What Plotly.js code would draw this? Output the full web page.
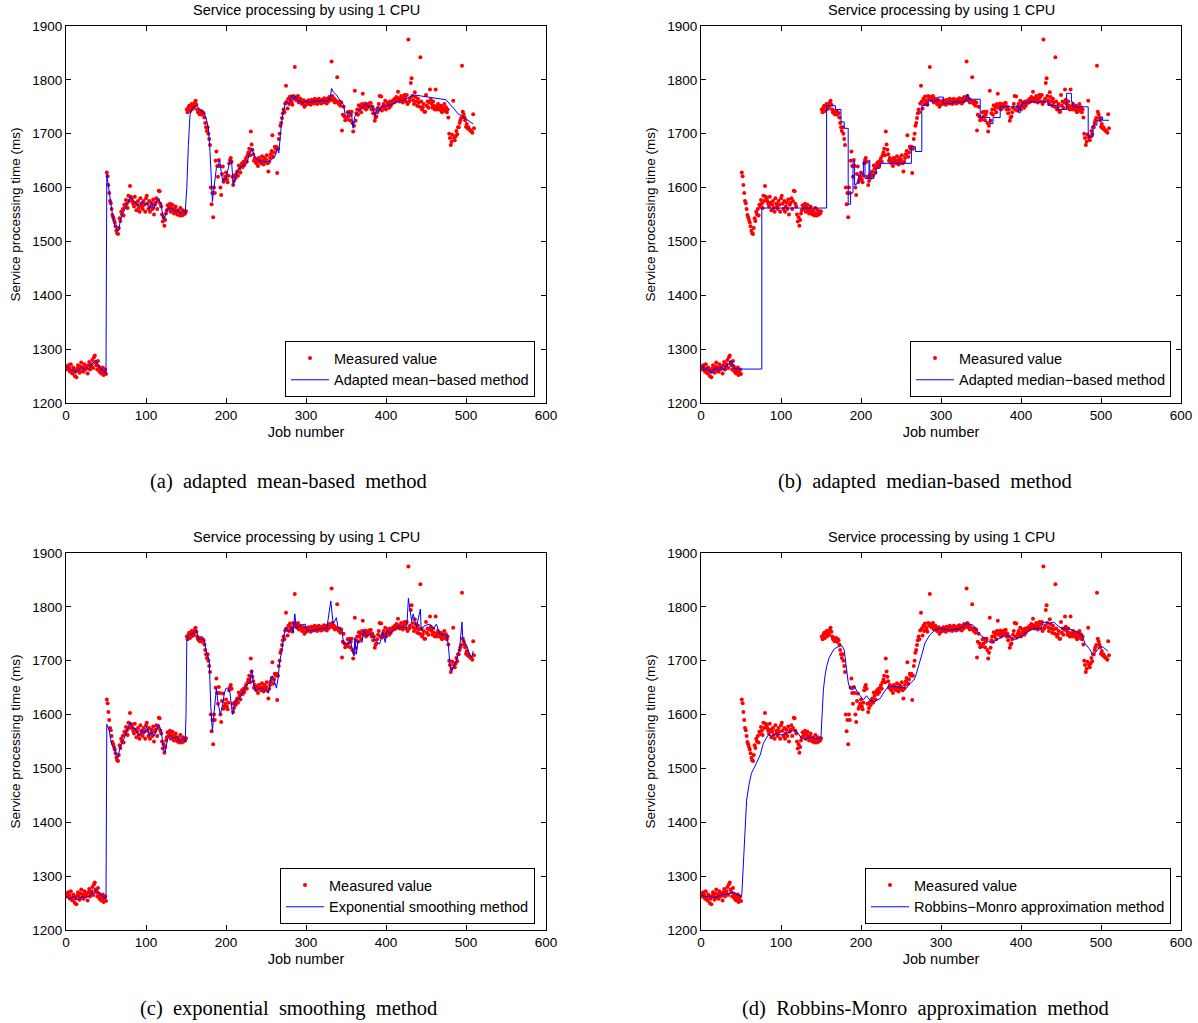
<!DOCTYPE html>
<html>
<head>
<meta charset="utf-8">
<script src="https://cdn.plot.ly/plotly-3.0.1.min.js"></script>
<style>html,body{margin:0;padding:0;background:#fff;}#chart{width:1198px;height:1023px;}</style>
</head>
<body>
<div id="chart"></div>
<script>
// Measured service processing time (ms) for jobs 1..510
const measured = [
1268,1262,1270,1265,1258,1272,1260,1255,1266,1262,
1250,1258,1248,1264,1270,1262,1256,1268,1275,1260,
1266,1258,1272,1262,1268,1264,1255,1270,1276,1262,
1268,1272,1280,1265,1285,1288,1275,1270,1262,1278,
1268,1258,1264,1255,1260,1266,1252,1256,1262,1254,
1628,1621,1605,1590,1575,1571,1560,1549,1545,1540,
1535,1528,1520,1515,1514,1525,1543,1538,1555,1550,
1560,1548,1568,1564,1577,1570,1562,1585,1575,1603,
1583,1580,1575,1570,1565,1583,1572,1558,1568,1575,
1562,1555,1580,1570,1565,1560,1575,1568,1555,1580,
1585,1570,1560,1575,1555,1565,1572,1560,1578,1550,
1568,1572,1580,1560,1575,1594,1593,1570,1565,1550,
1537,1545,1529,1540,1552,1558,1567,1560,1565,1570,
1555,1562,1568,1558,1552,1560,1565,1555,1550,1558,
1555,1548,1562,1552,1548,1558,1550,1555,1552,1556,
1745,1740,1748,1752,1742,1750,1755,1746,1752,1748,
1758,1761,1754,1745,1740,1742,1736,1738,1742,1735,
1740,1738,1730,1720,1712,1705,1712,1700,1690,1679,
1600,1569,1590,1545,1600,1590,1650,1667,1640,1620,
1651,1640,1600,1586,1625,1639,1611,1615,1620,1628,
1615,1610,1622,1645,1651,1655,1648,1620,1605,1612,
1623,1618,1625,1630,1622,1641,1635,1628,1640,1645,
1638,1648,1642,1650,1655,1648,1660,1665,1672,1660,
1704,1680,1670,1662,1650,1655,1648,1645,1652,1640,
1655,1648,1651,1645,1658,1650,1643,1655,1648,1652,
1660,1645,1630,1648,1655,1662,1668,1697,1657,1665,
1676,1672,1676,1627,1672,1690,1700,1715,1720,1729,
1738,1745,1740,1756,1789,1760,1747,1765,1755,1769,
1762,1758,1754,1770,1765,1824,1768,1762,1765,1770,
1758,1762,1765,1760,1755,1757,1762,1750,1753,1760,
1758,1755,1762,1757,1760,1754,1763,1758,1760,1756,
1765,1758,1762,1755,1760,1765,1758,1762,1756,1760,
1764,1758,1766,1760,1762,1756,1765,1760,1768,1762,
1765,1834,1770,1762,1765,1758,1762,1760,1805,1758,
1755,1760,1752,1758,1706,1735,1750,1732,1725,1728,
1727,1740,1732,1741,1725,1735,1741,1720,1704,1715,
1780,1724,1738,1745,1735,1753,1745,1750,1740,1755,
1774,1748,1750,1756,1745,1752,1748,1755,1751,1757,
1757,1745,1750,1738,1745,1724,1730,1732,1740,1748,
1755,1770,1745,1769,1743,1750,1755,1748,1761,1745,
1752,1758,1755,1748,1760,1752,1756,1760,1762,1758,
1765,1760,1768,1762,1778,1766,1760,1764,1770,1762,
1758,1765,1772,1768,1760,1772,1755,1875,1760,1765,
1794,1803,1770,1762,1755,1777,1768,1760,1752,1765,
1758,1750,1842,1760,1745,1749,1755,1741,1741,1772,
1752,1760,1748,1758,1782,1763,1755,1748,1760,1752,
1745,1782,1750,1745,1755,1751,1748,1744,1752,1740,
1748,1745,1755,1742,1749,1740,1745,1730,1700,1692,
1679,1685,1698,1761,1692,1688,1695,1705,1699,1712,
1712,1720,1725,1729,1826,1741,1736,1730,1725,1713,
1718,1710,1712,1708,1707,1705,1704,1702,1736,1710
];
const jobNumbers = measured.map((_, i) => i + 1);

// (a) adapted mean-based method
const meanJobs = [1,4,7,10,13,16,19,22,25,28,31,34,37,40,43,46,49,50,51,53,55,58,61,64,66,68,71,74,77,80,83,86,89,92,95,98,101,104,107,110,113,116,119,122,125,128,131,134,137,140,143,146,149,151,153,155,157,160,163,166,169,172,175,178,180,182,183,185,188,190,192,194,196,198,200,202,205,207,209,211,214,218,222,226,229,232,234,236,240,246,252,256,259,262,264,266,268,270,272,274,276,278,280,283,285,287,290,293,296,300,305,310,315,320,325,330,332,334,338,342,347,349,351,354,357,359,361,364,367,373,379,383,386,389,391,394,400,407,415,424,430,436,444,452,463,475,484,490,496,502,509];
const meanVals = [1268,1264,1262,1260,1257,1262,1266,1263,1266,1264,1270,1274,1280,1272,1264,1262,1258,1255,1625,1605,1580,1550,1530,1520,1520,1540,1552,1560,1570,1583,1578,1572,1568,1566,1575,1570,1572,1560,1572,1560,1574,1580,1566,1540,1550,1563,1560,1560,1556,1558,1552,1556,1553,1600,1680,1735,1745,1750,1752,1748,1742,1740,1730,1710,1667,1600,1574,1600,1636,1640,1651,1630,1611,1615,1617,1630,1651,1648,1605,1614,1630,1638,1642,1645,1660,1673,1665,1657,1651,1648,1648,1650,1655,1660,1673,1664,1697,1728,1742,1756,1759,1755,1760,1772,1763,1769,1762,1760,1757,1760,1758,1761,1760,1762,1760,1765,1784,1778,1772,1763,1754,1735,1732,1741,1735,1710,1732,1738,1744,1754,1750,1751,1732,1748,1741,1751,1752,1754,1760,1763,1769,1772,1770,1768,1766,1763,1748,1737,1732,1726,1718];

// (b) adapted median-based method (step changes)
const medianJobs = [1,3,6,9,12,15,18,21,24,27,30,33,36,39,41,44,76,157,168,175,179,184,187,190,192,194,197,199,203,205,210,211,216,219,224,263,268,276,284,296,303,315,330,332,334,349,361,365,374,397,399,401,407,434,446,457,463,465,484,490,495,500,502,510];
const medianVals = [1268,1262,1265,1260,1256,1262,1265,1262,1266,1262,1268,1272,1278,1272,1264,1263,1562,1752,1745,1722,1710,1569,1590,1648,1605,1608,1623,1625,1648,1617,1651,1617,1625,1636,1645,1676,1667,1753,1761,1768,1756,1759,1762,1772,1764,1730,1719,1730,1750,1739,1750,1757,1759,1753,1745,1775,1759,1750,1694,1716,1725,1731,1725,1725];

// (c) exponential smoothing method
const expJobs = [1,5,10,15,20,25,30,35,38,42,46,50,51,54,57,60,63,65,67,70,73,76,80,83,86,89,92,95,98,101,104,107,110,113,116,119,122,124,127,130,134,138,142,146,149,150,151,153,157,160,163,166,170,173,175,179,181,183,185,188,190,193,196,198,200,203,205,208,210,213,217,221,226,230,232,234,237,241,245,249,253,256,258,261,263,265,267,270,272,274,278,282,284,286,288,292,299,301,309,318,326,331,334,338,340,345,347,353,355,357,360,361,363,365,370,372,376,382,388,392,396,399,401,405,409,413,419,426,428,432,434,438,443,444,448,455,459,463,467,476,478,480,482,484,488,492,495,496,501,505,507,509];
const expVals = [1262,1258,1262,1256,1262,1260,1264,1270,1276,1268,1262,1258,1582,1570,1545,1540,1522,1520,1535,1548,1556,1570,1585,1575,1575,1565,1560,1572,1565,1578,1560,1570,1560,1570,1582,1570,1535,1530,1555,1562,1555,1560,1550,1556,1550,1600,1735,1745,1750,1752,1756,1740,1740,1738,1719,1701,1614,1570,1600,1649,1621,1600,1621,1640,1649,1649,1640,1600,1615,1627,1630,1640,1655,1660,1683,1662,1644,1648,1649,1644,1640,1666,1672,1660,1649,1666,1697,1721,1740,1762,1753,1762,1753,1787,1759,1765,1768,1756,1756,1760,1760,1811,1768,1780,1762,1756,1731,1731,1740,1725,1709,1743,1712,1737,1734,1756,1746,1750,1735,1731,1753,1734,1756,1750,1756,1762,1762,1762,1816,1774,1787,1762,1796,1756,1765,1768,1759,1768,1750,1747,1728,1691,1681,1687,1700,1722,1772,1740,1728,1709,1706,1718];

// (d) Robbins-Monro approximation method
const rmJobs = [1,5,10,15,20,25,30,35,40,45,50,51,53,55,57,60,63,67,70,74,78,84,88,94,100,107,112,117,121,124,130,136,142,149,150,153,155,157,160,163,166,170,176,179,182,184,186,190,192,195,199,203,207,211,217,224,229,234,240,245,251,257,260,263,266,268,272,276,280,286,292,299,305,311,318,324,328,332,336,340,344,348,351,355,359,363,367,370,374,378,382,386,389,393,396,400,404,408,412,417,421,425,428,432,436,441,445,451,457,464,470,476,480,485,490,493,496,499,503,506,509];
const rmVals = [1265,1262,1263,1260,1262,1265,1266,1268,1270,1266,1262,1265,1330,1400,1441,1470,1491,1503,1512,1525,1547,1562,1560,1565,1562,1566,1568,1571,1566,1559,1553,1558,1556,1555,1560,1646,1672,1689,1705,1714,1721,1725,1728,1720,1677,1660,1649,1646,1652,1643,1635,1627,1635,1627,1624,1630,1642,1652,1652,1652,1650,1649,1656,1661,1664,1670,1689,1711,1733,1748,1756,1760,1758,1757,1758,1760,1765,1769,1768,1766,1757,1750,1745,1742,1736,1733,1737,1739,1742,1745,1748,1745,1742,1739,1742,1745,1750,1754,1757,1760,1760,1760,1772,1770,1769,1772,1766,1760,1760,1757,1754,1748,1732,1723,1711,1715,1722,1727,1725,1721,1717];

const chartTitle = 'Service processing by using 1 CPU';
const xTitle = 'Job number';
const yTitle = 'Service processing time (ms)';
const measuredName = 'Measured value';
const methodNames = ['Adapted mean\u2212based method', 'Adapted median\u2212based method', 'Exponential smoothing method', 'Robbins\u2212Monro approximation method'];
const gap = '\u00a0 ';
const captions = ['(a)' + gap + 'adapted' + gap + 'mean-based' + gap + 'method', '(b)' + gap + 'adapted' + gap + 'median-based' + gap + 'method', '(c)' + gap + 'exponential' + gap + 'smoothing' + gap + 'method', '(d)' + gap + 'Robbins-Monro' + gap + 'approximation' + gap + 'method'];
const tickVals = [1200,1300,1400,1500,1600,1700,1800,1900];

const W = 1198, H = 1023;
const lineX = [meanJobs, medianJobs, expJobs, rmJobs];
const lineY = [meanVals, medianVals, expVals, rmVals];
const shapes = ['linear', 'hv', 'linear', 'linear'];

// pixel geometry of the four plot boxes
const boxes = [
  {l: 66, r: 546, t: 26, b: 403},
  {l: 701, r: 1181, t: 26, b: 403},
  {l: 66, r: 546, t: 553, b: 930},
  {l: 701, r: 1181, t: 553, b: 930}
];
const legendRight = [535, 1171, 535, 1171];
const captionCenter = [288, 925, 288, 925];

const font = 'Liberation Sans, Arial, Helvetica, sans-serif';
const data = [];
const layout = {
  width: W, height: H,
  margin: {l: 0, r: 0, t: 0, b: 0},
  paper_bgcolor: '#ffffff', plot_bgcolor: '#ffffff',
  font: {family: font, size: 13, color: '#000'},
  annotations: [],
  showlegend: true
};

for (let p = 0; p < 4; p++) {
  const sfx = p === 0 ? '' : String(p + 1);
  const bx = boxes[p];
  const legName = 'legend' + sfx;
  data.push({
    type: 'scatter', mode: 'markers', x: jobNumbers, y: measured,
    xaxis: 'x' + sfx, yaxis: 'y' + sfx, name: measuredName, legend: legName,
    marker: {color: '#ff0000', size: 4, line: {width: 0}}, cliponaxis: true
  });
  data.push({
    type: 'scatter', mode: 'lines', x: lineX[p], y: lineY[p],
    xaxis: 'x' + sfx, yaxis: 'y' + sfx, name: methodNames[p], legend: legName,
    line: {color: '#0000ff', width: 1, shape: shapes[p]}
  });
  layout['xaxis' + sfx] = {
    domain: [bx.l / W, bx.r / W], anchor: 'y' + sfx,
    range: [0, 600], tickmode: 'linear', tick0: 0, dtick: 100,
    ticks: 'inside', ticklen: 5, tickcolor: '#000', showline: true, linecolor: '#000', linewidth: 1,
    mirror: 'ticks', showgrid: false, zeroline: false, fixedrange: true,
    tickfont: {family: font, size: 13.5, color: '#000'},
    title: {text: xTitle, font: {family: font, size: 14.5, color: '#000'}, standoff: 4}
  };
  layout['yaxis' + sfx] = {
    domain: [1 - bx.b / H, 1 - bx.t / H], anchor: 'x' + sfx,
    range: [1200, 1900], tickvals: tickVals, ticktext: tickVals.map(String),
    ticks: 'inside', ticklen: 5, tickcolor: '#000', showline: true, linecolor: '#000', linewidth: 1,
    mirror: 'ticks', showgrid: false, zeroline: false, fixedrange: true,
    tickfont: {family: font, size: 13.5, color: '#000'},
    title: {text: yTitle, font: {family: font, size: 13.5, color: '#000'}, standoff: 8}
  };
  layout[legName] = {
    x: legendRight[p] / W, y: 1 - (bx.b - 6) / H, xanchor: 'right', yanchor: 'bottom',
    xref: 'paper', yref: 'paper',
    bgcolor: '#ffffff', bordercolor: '#000', borderwidth: 1,
    font: {family: font, size: 14.5, color: '#000'},
    itemwidth: 38, tracegroupgap: 0
  };
  const cx = (bx.l + bx.r) / 2 / W;
  layout.annotations.push({
    text: chartTitle, xref: 'paper', yref: 'paper', x: cx, y: 1 - (bx.t - 6) / H,
    xanchor: 'center', yanchor: 'bottom', showarrow: false,
    font: {family: font, size: 14.5, color: '#000'}
  });
  layout.annotations.push({
    text: captions[p], xref: 'paper', yref: 'paper', x: captionCenter[p] / W, y: 1 - (bx.b + 78) / H,
    xanchor: 'center', yanchor: 'middle', showarrow: false,
    font: {family: 'Liberation Serif, Times New Roman, serif', size: 20.5, color: '#000'}
  });
}

Plotly.newPlot('chart', data, layout, {displayModeBar: false, staticPlot: true});
</script>
</body>
</html>
